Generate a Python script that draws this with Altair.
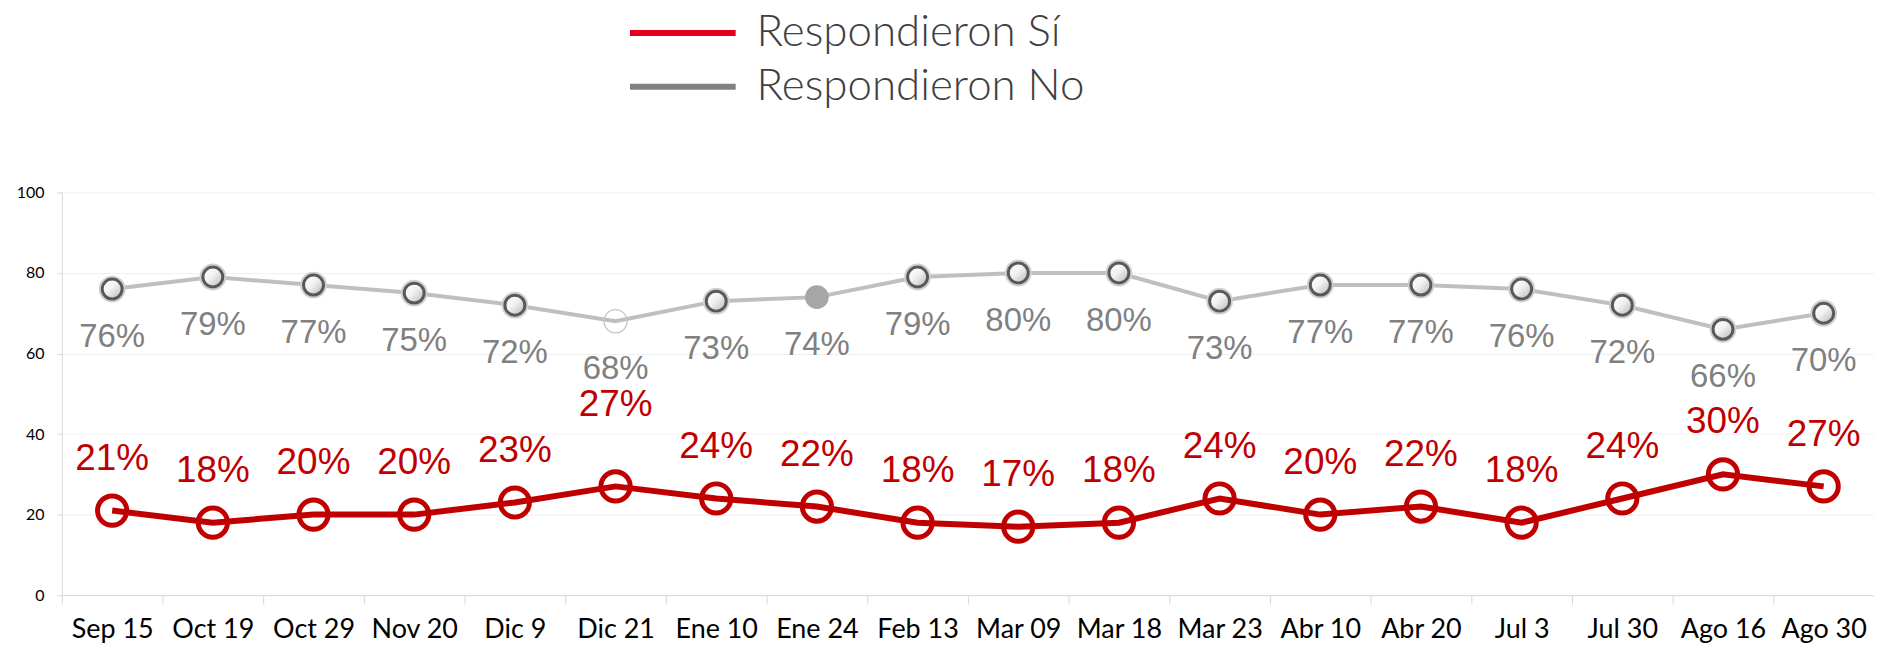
import altair as alt
import pandas as pd

fechas = ["Sep 15", "Oct 19", "Oct 29", "Nov 20", "Dic 9", "Dic 21", "Ene 10", "Ene 24",
          "Feb 13", "Mar 09", "Mar 18", "Mar 23", "Abr 10", "Abr 20", "Jul 3", "Jul 30",
          "Ago 16", "Ago 30"]
si = [21, 18, 20, 20, 23, 27, 24, 22, 18, 17, 18, 24, 20, 22, 18, 24, 30, 27]
no = [76, 79, 77, 75, 72, 68, 73, 74, 79, 80, 80, 73, 77, 77, 76, 72, 66, 70]
series = ["Respondieron Sí", "Respondieron No"]
y_ticks = [0, 20, 40, 60, 80, 100]

df = pd.DataFrame({
    "fecha": fechas * 2,
    "valor": si + no,
    "serie": [series[0]] * len(fechas) + [series[1]] * len(fechas),
})

AX = "#d9d9d9"

x = alt.X(
    "fecha:N", sort=fechas,
    scale=alt.Scale(type="band", paddingInner=0, paddingOuter=0),
    axis=alt.Axis(title=None, labelAngle=0, tickBand="extent", tickSize=9, tickColor=AX,
                  domainColor=AX, labelFont="Lato", labelFontSize=27, labelColor="#000000",
                  labelPadding=13, grid=False),
)
y = alt.Y(
    "valor:Q",
    scale=alt.Scale(domain=[0, 100], nice=False, zero=True),
    axis=alt.Axis(title=None, values=y_ticks, tickSize=5, tickColor=AX, domainColor=AX,
                  gridColor="#efefef", labelFont="Lato", labelFontSize=16,
                  labelColor="#000000", labelPadding=13),
)

base = alt.Chart(df).encode(x=x, y=y)
is_si = f"datum.serie == '{series[0]}'"
is_no = f"datum.serie == '{series[1]}'"

lbl = alt.Chart(df).transform_calculate(etq="datum.valor + '%'")

gray_line = base.transform_filter(is_no).mark_line(color="#bfbfbf", strokeWidth=4)
grad = alt.LinearGradient(
    gradient="linear",
    stops=[alt.GradientStop(color="#ffffff", offset=0),
           alt.GradientStop(color="#f2f2f2", offset=0.45),
           alt.GradientStop(color="#b5b5b5", offset=1)],
    x1=0, y1=0, x2=1, y2=1)
normal = "datum.fecha != 'Dic 21' && datum.fecha != 'Ene 24'"
gray_halo = base.transform_filter(is_no).transform_filter(normal).mark_point(
    shape="circle", filled=False, size=620, stroke="#d0d0d0", strokeWidth=2, opacity=1)
gray_pts = base.transform_filter(is_no).transform_filter(normal).mark_circle(
    size=400, fill=grad, stroke="#595959", strokeWidth=3, opacity=1)
gray_open = base.transform_filter(is_no).transform_filter("datum.fecha == 'Dic 21'").mark_point(
    shape="circle", filled=False, size=540, stroke="#c4c4c4", strokeWidth=1.3, opacity=1)
gray_fill = base.transform_filter(is_no).transform_filter("datum.fecha == 'Ene 24'").mark_circle(
    size=560, color="#a6a6a6", opacity=1)
gray_text = lbl.transform_filter(is_no).mark_text(
    dy=48, font="Liberation Sans", fontSize=33, color="#808080", baseline="middle"
).encode(x=x, y=y, text="etq:N")

red_line = base.transform_filter(is_si).mark_line(color="#c00000", strokeWidth=6)
red_pts = base.transform_filter(is_si).mark_point(
    shape="circle", filled=False, size=860, stroke="#c00000", strokeWidth=5, opacity=1)
red_text = lbl.transform_filter(is_si).transform_filter("datum.fecha != 'Dic 21'").mark_text(
    dy=-52, font="Liberation Sans", fontSize=37, color="#c00000", baseline="middle"
).encode(x=x, y=y, text="etq:N")
red_text_hi = lbl.transform_filter(is_si).transform_filter("datum.fecha == 'Dic 21'").mark_text(
    dy=-82, font="Liberation Sans", fontSize=37, color="#c00000", baseline="middle"
).encode(x=x, y=y, text="etq:N")

legend_layer = base.transform_filter("false").mark_line().encode(
    color=alt.Color(
        "serie:N",
        scale=alt.Scale(domain=series, range=["#e0001b", "#808080"]),
        legend=alt.Legend(orient="none", legendX=567, legendY=-187, title=None,
                          symbolType="stroke", symbolSize=11236, symbolStrokeWidth=6,
                          symbolOpacity=1, clipHeight=54, rowPadding=0,
                          labelFont="Lato", labelFontSize=44, labelFontWeight=300,
                          labelColor="#404040", labelOffset=18, labelLimit=600),
    )
)

chart = alt.layer(
    gray_line, gray_halo, gray_pts, gray_open, gray_fill, gray_text,
    red_line, red_pts, red_text, red_text_hi, legend_layer,
).properties(
    width=1818, height=404,
    autosize=alt.AutoSizeParams(type="none"),
    padding={"left": 54, "top": 184, "right": 0, "bottom": 49},
).configure_view(stroke=None)

chart.save("out.html", embed_options={"renderer": "svg", "actions": False})
